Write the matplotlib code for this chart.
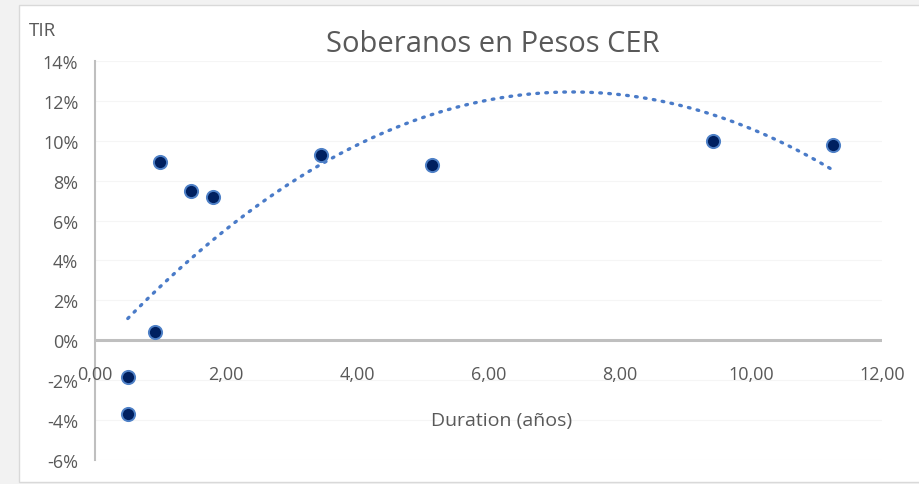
import numpy as np
import matplotlib
matplotlib.use("Agg")
import matplotlib.pyplot as plt
from matplotlib.patches import Rectangle
from matplotlib.ticker import FuncFormatter

# Data
duration = [0.50, 0.50, 0.91, 0.99, 1.46, 1.80, 3.44, 5.14, 9.42, 11.25]
tir = [-1.85, -3.70, 0.40, 8.93, 7.50, 7.20, 9.30, 8.80, 10.00, 9.80]  # percent
x_ticks = [0, 2, 4, 6, 8, 10, 12]
y_ticks = [-6, -4, -2, 0, 2, 4, 6, 8, 10, 12, 14]

plt.rcParams['font.family'] = ['Open Sans', 'DejaVu Sans']

fig = plt.figure(figsize=(9.2, 4.85), dpi=100)
fig.patch.set_facecolor('#F2F2F2')
W, H = 920, 485
bg = Rectangle((19 / W, 1 - 483 / H), 1.0, (483 - 6) / H,
               transform=fig.transFigure, facecolor='white',
               edgecolor='#D9D9D9', linewidth=1.0, zorder=-10)
fig.add_artist(bg)

ax = fig.add_axes([95 / W, 1 - 461 / H, (882 - 95) / W, (461 - 62) / H])
ax.set_zorder(5)
ax.set_facecolor('none')
ax.set_xlim(0, 12)
ax.set_ylim(-6, 14)

for s in ['top', 'right', 'bottom']:
    ax.spines[s].set_visible(False)
ax.spines['left'].set_color('#BFBFBF')
ax.spines['left'].set_linewidth(1.5)

for yv in y_ticks:
    if yv != 0:
        ax.axhline(yv, color='#F5F5F5', linewidth=0.8, zorder=0)
ax.axhline(0, color='#BFBFBF', linewidth=2.2, zorder=1)

# Trendline (polynomial, order 2)
coef = np.polyfit(duration, tir, 2)
xt = np.linspace(min(duration), max(duration), 200)
ax.plot(xt, np.polyval(coef, xt), color='#4A7BC8', linewidth=2.4,
        linestyle=(0, (0.5, 2.2)), dash_capstyle='round', zorder=2)

ax.scatter(duration, tir, s=90, color='#002060', edgecolors='#4F81C7',
           linewidths=1.4, zorder=3)

ax.set_yticks(y_ticks)
ax.yaxis.set_major_formatter(FuncFormatter(lambda v, p: f"{int(v)}%"))
ax.tick_params(axis='y', length=0, pad=12, labelsize=13, labelcolor='#595959')
ax.set_xticks([])

for xv in x_ticks:
    ax.text(xv, -1.7, f"{xv:.2f}".replace('.', ','), ha='center', va='center',
            fontsize=13, color='#595959')

fig.text(493 / W, 1 - 45 / H, 'Soberanos en Pesos CER', ha='center', va='center',
         fontsize=21, color='#595959')
fig.text(29 / W, 1 - 31 / H, 'TIR', ha='left', va='center',
         fontsize=13.5, color='#595959')
ax.text(6.2, -4.0, 'Duration (años)', ha='center', va='center',
        fontsize=14, color='#595959')

fig.savefig('out.png', dpi=100, facecolor=fig.get_facecolor())
